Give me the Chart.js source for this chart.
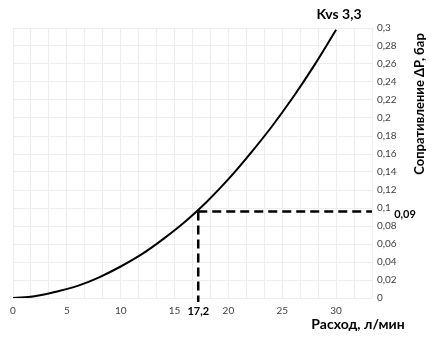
<!DOCTYPE html>
<html><head><meta charset="utf-8">
<script src="https://cdn.jsdelivr.net/npm/chart.js@4"></script>
<style>html,body{margin:0;padding:0;background:#fff}#c{display:block}</style>
</head><body>
<canvas id="c" width="432" height="343"></canvas>
<script>
// Data
const flowValues     = [0, 2, 4, 6, 8, 10, 12, 14, 16, 18, 20, 22, 24, 26, 28, 30];
const pressureValues = [0, 0.002, 0.007, 0.0135, 0.023, 0.035, 0.049, 0.066, 0.085, 0.107, 0.132, 0.16, 0.19, 0.223, 0.259, 0.298];
const markerFlow = 17.2;
const markerPressure = 0.096;
const markerFlowLabel = '17,2';
const markerPressureLabel = '0,09';
const xTickLabels = [0, 5, 10, 15, 20, 25, 30];
const xGridStep = 5 / 3;
const xMax = 100 / 3;
const yTickStep = 0.02;
const yMax = 0.3;
const chartTitle = 'Kvs 3,3';
const xTitle = 'Расход, л/мин';
const yTitle = 'Сопративление ΔР, бар';

const FONT = 'Lato, "Open Sans", sans-serif';

const textPlugin = {
  id: 'texts',
  afterDraw(chart) {
    const ctx = chart.ctx;
    const xs = chart.scales.x, ys = chart.scales.y;
    ctx.save();
    ctx.fillStyle = '#000';
    ctx.textBaseline = 'middle';
    ctx.font = 'bold 14px ' + FONT;
    ctx.textAlign = 'center';
    ctx.fillText(chartTitle, 339, 14);
    ctx.fillText(xTitle, 358, 324);
    ctx.save();
    ctx.translate(420, 104);
    ctx.rotate(-Math.PI / 2);
    ctx.font = 'bold 13px ' + FONT;
    ctx.fillText(yTitle, 0, 0);
    ctx.restore();
    ctx.font = 'bold 11px ' + FONT;
    ctx.fillText(markerFlowLabel, xs.getPixelForValue(markerFlow), 311);
    ctx.fillText(markerPressureLabel, 405, ys.getPixelForValue(markerPressure) + 3);
    ctx.restore();
  }
};

new Chart(document.getElementById('c'), {
  type: 'line',
  data: {
    datasets: [
      {
        data: flowValues.map((x, i) => ({ x, y: pressureValues[i] })),
        borderColor: '#000', borderWidth: 2, pointRadius: 0,
        tension: 0.4, fill: false
      },
      {
        data: [{ x: markerFlow, y: markerPressure }, { x: xMax, y: markerPressure }],
        borderColor: '#000', borderWidth: 2.5, borderDash: [9, 5], pointRadius: 0, fill: false, clip: false
      },
      {
        data: [{ x: markerFlow, y: markerPressure }, { x: markerFlow, y: -0.0045 }],
        borderColor: '#000', borderWidth: 2.5, borderDash: [9, 5], pointRadius: 0, fill: false, clip: false
      }
    ]
  },
  options: {
    responsive: false,
    animation: false,
    devicePixelRatio: 1,
    layout: { padding: { left: 13, top: 28, right: 0, bottom: 0 } },
    plugins: { legend: { display: false }, tooltip: { enabled: false }, title: { display: false } },
    scales: {
      x: {
        type: 'linear', min: 0, max: xMax,
        afterBuildTicks(scale) {
          const t = [];
          for (let i = 0; i <= 20; i++) t.push({ value: i * xGridStep });
          scale.ticks = t;
        },
        afterFit(scale) { scale.height = 45; },
        grid: { color: '#ededed', lineWidth: 1, drawTicks: false },
        border: { display: false },
        ticks: {
          autoSkip: false, maxRotation: 0, padding: 7, color: '#404040',
          font: { family: FONT, size: 10 },
          callback(v) {
            const m = xTickLabels.find(l => Math.abs(l - v) < 1e-6);
            return m === undefined ? '' : String(m);
          }
        }
      },
      y: {
        position: 'right', min: 0, max: yMax,
        afterBuildTicks(scale) {
          const t = [];
          for (let i = 0; i <= 15; i++) t.push({ value: i * yTickStep });
          scale.ticks = t;
        },
        afterFit(scale) { scale.width = 60; },
        grid: { color: '#ededed', lineWidth: 1, drawTicks: false },
        border: { display: false },
        ticks: {
          autoSkip: false, padding: 5, color: '#404040',
          font: { family: FONT, size: 10 },
          callback(v) { return String(parseFloat(v.toFixed(2))).replace('.', ','); }
        }
      }
    }
  },
  plugins: [textPlugin]
});
</script>
</body></html>
